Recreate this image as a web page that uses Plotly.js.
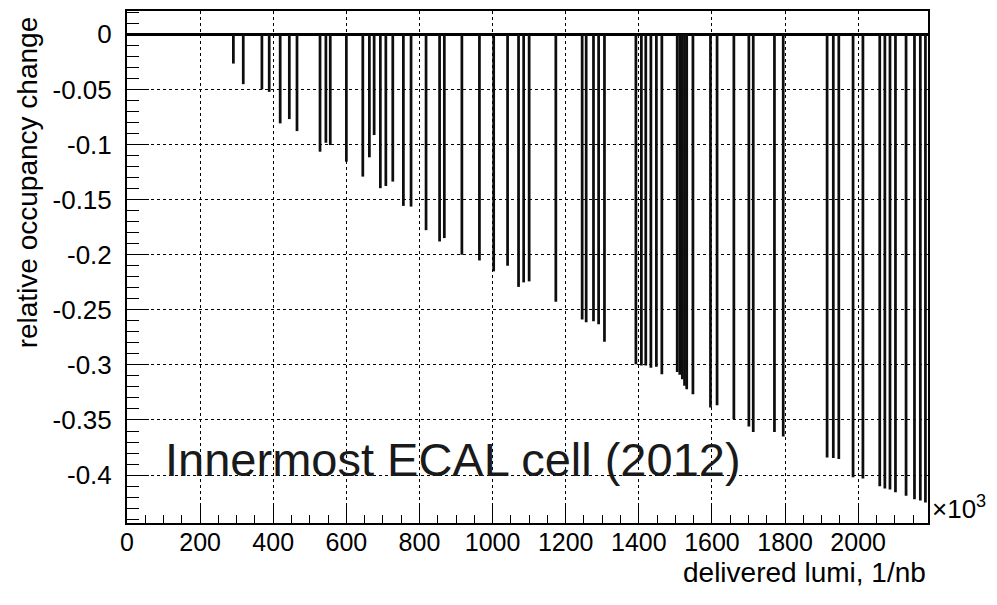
<!DOCTYPE html>
<html>
<head>
<meta charset="utf-8">
<script src="https://cdn.plot.ly/plotly-3.0.1.min.js"></script>
<style>
  html, body { margin: 0; padding: 0; background: #fff; }
  #chart { width: 997px; height: 605px; }
</style>
</head>
<body>
<div id="chart"></div>
<script>
// Delivered luminosity (in units of 10^3 1/nb) for each measurement
const lumi = [
  291, 318, 369, 389, 419, 444, 465, 528, 544, 556,
  600, 645, 663, 676, 693, 708, 727, 756, 777, 818,
  855, 868, 916, 964, 1003, 1041, 1071, 1085, 1100, 1173,
  1245, 1256, 1276, 1290, 1306, 1392, 1407, 1419, 1433, 1448,
  1463, 1505, 1512, 1519, 1525, 1531, 1548, 1596, 1614, 1660,
  1701, 1713, 1771, 1795, 1915, 1932, 1947, 1986, 2013, 2059,
  2073, 2087, 2102, 2131, 2154, 2170, 2184
];
// Relative occupancy change of the innermost ECAL cell
const occChange = [
  -0.0265, -0.0452, -0.050, -0.0522, -0.0808, -0.0769, -0.0878, -0.1065, -0.0984, -0.1005,
  -0.1156, -0.1291, -0.1116, -0.0914, -0.1396, -0.1376, -0.1336, -0.1557, -0.1563, -0.1777,
  -0.1880, -0.1849, -0.2000, -0.2052, -0.2151, -0.2100, -0.2292, -0.2251, -0.2242, -0.2428,
  -0.2588, -0.2613, -0.2604, -0.2631, -0.2790, -0.2995, -0.3005, -0.3005, -0.3025, -0.3016,
  -0.3086, -0.3065, -0.3090, -0.3130, -0.3190, -0.3220, -0.3267, -0.3387, -0.3367, -0.3493,
  -0.3559, -0.3608, -0.3608, -0.3650, -0.3840, -0.3846, -0.3855, -0.4020, -0.4030, -0.4102,
  -0.4123, -0.4132, -0.4157, -0.4188, -0.4219, -0.4230, -0.4250
];
const xTickVals = [0, 200, 400, 600, 800, 1000, 1200, 1400, 1600, 1800, 2000];
const yTickVals = [0, -0.05, -0.1, -0.15, -0.2, -0.25, -0.3, -0.35, -0.4];
const yTickText = ['0', '-0.05', '-0.1', '-0.15', '-0.2', '-0.25', '-0.3', '-0.35', '-0.4'];

const FONT = 'Liberation Sans, Arial, Helvetica, sans-serif';

const trace = {
  type: 'bar',
  x: lumi,
  y: occChange,
  width: 7.5,
  marker: { color: '#0d0d0d', line: { width: 0 } },
  hoverinfo: 'x+y'
};

const layout = {
  width: 997,
  height: 605,
  margin: { l: 127, r: 69, t: 11, b: 82, pad: 0 },
  paper_bgcolor: '#fff',
  plot_bgcolor: '#fff',
  showlegend: false,
  font: { family: FONT, color: '#000', size: 26 },
  xaxis: {
    range: [0, 2191],
    tickvals: xTickVals,
    ticktext: xTickVals.map(String),
    ticks: 'inside',
    ticklen: 17,
    tickwidth: 1,
    tickcolor: '#000',
    tickfont: { family: FONT, size: 25, color: '#000' },
    ticklabelstandoff: -4,
    showline: true,
    mirror: true,
    linecolor: '#000',
    linewidth: 2,
    showgrid: true,
    gridcolor: '#000',
    gridwidth: 1,
    griddash: 'dot',
    zeroline: false,
    minor: { dtick: 50, tick0: 0, ticks: 'inside', ticklen: 8, tickcolor: '#000', tickwidth: 1, showgrid: false },
    fixedrange: true
  },
  yaxis: {
    range: [-0.4435, 0.0212],
    tickvals: yTickVals,
    ticktext: yTickText,
    ticks: 'inside',
    ticklen: 22,
    tickwidth: 1,
    tickcolor: '#000',
    tickfont: { family: FONT, size: 26, color: '#000' },
    ticklabelstandoff: 8,
    showline: true,
    mirror: true,
    linecolor: '#000',
    linewidth: 2,
    showgrid: true,
    gridcolor: '#000',
    gridwidth: 1,
    griddash: 'dot',
    zeroline: true,
    zerolinecolor: '#000',
    zerolinewidth: 3,
    minor: { dtick: 0.01, tick0: 0, ticks: 'inside', ticklen: 12, tickcolor: '#000', tickwidth: 1, showgrid: false },
    fixedrange: true
  },
  annotations: [
    {
      text: 'Innermost ECAL cell (2012)',
      xref: 'paper', yref: 'paper',
      x: 0.0453, y: 0.124,
      xanchor: 'left', yanchor: 'middle',
      showarrow: false,
      font: { family: FONT, size: 47, color: '#1a1a1a' }
    },
    {
      text: 'relative occupancy change',
      xref: 'paper', yref: 'paper',
      x: -0.1242, y: 0.6644,
      xanchor: 'center', yanchor: 'middle',
      textangle: -90,
      showarrow: false,
      font: { family: FONT, size: 28, color: '#000' }
    },
    {
      text: 'delivered lumi, 1/nb',
      xref: 'paper', yref: 'paper',
      x: 1, y: -0.097,
      xanchor: 'right', yanchor: 'middle',
      showarrow: false,
      font: { family: FONT, size: 28, color: '#000' }
    },
    {
      text: '×10<sup>3</sup>',
      xref: 'paper', yref: 'paper',
      x: 1.002, y: 0.03,
      xanchor: 'left', yanchor: 'middle',
      showarrow: false,
      font: { family: FONT, size: 26, color: '#000' }
    }
  ]
};

Plotly.newPlot('chart', [trace], layout, { displayModeBar: false, staticPlot: true });
</script>
</body>
</html>
